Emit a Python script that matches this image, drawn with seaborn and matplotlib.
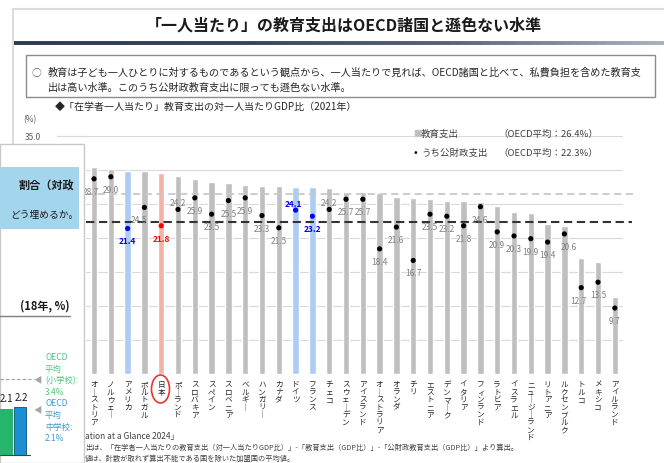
import matplotlib
matplotlib.use("Agg")
import matplotlib.pyplot as plt
import numpy as np
import seaborn as sns
from matplotlib.collections import LineCollection
from matplotlib.colors import LinearSegmentedColormap
from matplotlib.lines import Line2D
from matplotlib.patches import Ellipse, Rectangle

sns.set_theme(style="white")
plt.rcParams["font.family"] = ["Noto Sans CJK JP", "DejaVu Sans"]

# --- data ---
countries = [
    "オーストリア", "ノルウェー", "アメリカ", "ポルトガル", "日本", "ポーランド",
    "スロバキア", "スペイン", "スロベニア", "ベルギー", "ハンガリー", "カナダ",
    "ドイツ", "フランス", "チェコ", "スウェーデン", "アイスランド", "オーストラリア",
    "オランダ", "チリ", "エストニア", "デンマーク", "イタリア", "フィンランド",
    "ラトビア", "イスラエル", "ニュージーランド", "リトアニア", "ルクセンブルク",
    "トルコ", "メキシコ", "アイルランド",
]
total_spend = [
    30.5, 30.1, 29.9, 29.8, 29.5, 29.1, 28.7, 28.2, 28.1, 27.8, 27.7, 27.6,
    27.5, 27.5, 27.3, 26.8, 26.7, 26.6, 26.0, 25.9, 25.7, 25.5, 25.4, 25.3,
    24.7, 23.8, 23.7, 22.0, 21.7, 17.0, 16.5, 11.3,
]
public_spend = [
    28.7, 29.0, 21.4, 24.5, 21.8, 24.2, 25.9, 23.5, 25.5, 25.9, 23.3, 21.5,
    24.1, 23.2, 24.2, 25.7, 25.7, 18.4, 21.6, 16.7, 23.5, 23.2, 21.8, 24.6,
    20.9, 20.3, 19.9, 19.4, 20.6, 12.7, 13.5, 9.7,
]
oecd_total = 26.4
oecd_public = 22.3
blue_countries = ["アメリカ", "ドイツ", "フランス"]
red_countries = ["日本"]

# --- styling ---
W, H = 664, 464
GRAY_BAR = "#bfbfbf"
BLUE_BAR = "#aecbf4"
RED_BAR = "#f3b2a6"
LABEL_GRAY = "#808080"
# label nudges (px) for points whose label sits above / off-centre
LABEL_ABOVE = {5, 12, 14}
LABEL_DX = {0: -3, 3: -5, 12: -2, 28: 4, 29: -3}


def fx(px):
    return px / W


def fy(py):
    return 1 - py / H


def bar_color(c):
    if c in blue_countries:
        return BLUE_BAR
    if c in red_countries:
        return RED_BAR
    return GRAY_BAR


def dot_color(c):
    if c in blue_countries:
        return "#0000ff"
    if c in red_countries:
        return "#ff0000"
    return "#000000"


def vertical(name):
    # stack characters top-to-bottom like Japanese vertical writing
    return "\n".join("｜" if ch == "ー" else ch for ch in name)


fig = plt.figure(figsize=(W / 100, H / 100), dpi=100)
fig.patch.set_facecolor("white")

# --- main chart ---
pitch = 16.8
ax = fig.add_axes([fx(94 - pitch / 2), fy(375), fx(pitch * len(countries)), (375 - 137) / H])
ax.set_facecolor("none")
sns.barplot(x=countries, y=total_spend, hue=countries, palette={c: bar_color(c) for c in countries},
            legend=False, width=0.38, saturation=1, ax=ax, zorder=2)
x = np.arange(len(countries))
ax.scatter(x, public_spend, s=14, c=[dot_color(c) for c in countries], zorder=4, linewidths=0)

for i, (c, v) in enumerate(zip(countries, public_spend)):
    dy = 5 if i in LABEL_ABOVE else -9
    col = dot_color(c) if c in blue_countries + red_countries else LABEL_GRAY
    ax.annotate(f"{v:.1f}", (i, v), xytext=(LABEL_DX.get(i, 0) * 0.72, dy), textcoords="offset points",
                ha="center", va="center", fontsize=6, color=col, zorder=5,
                fontweight="bold" if c in blue_countries + red_countries else "normal")

ax.set_xlim(-0.5, len(countries) - 0.5)
ax.set_ylim(0, 35)
ax.set_yticks(np.arange(5, 36, 5))
ax.yaxis.grid(True, color="#d9d9d9", lw=0.8, zorder=0)
ax.set_yticklabels([])
ax.tick_params(axis="y", length=0)
ax.set_xticks(x)
ax.set_xticklabels([vertical(c) for c in countries], fontsize=5.5, linespacing=0.92,
                   va="top", color="#262626")
ax.tick_params(axis="x", length=0, pad=4.5)
ax.set_xlabel("")
for s in ax.spines.values():
    s.set_visible(False)

# OECD average reference lines, running a bit past the plot area
ax.hlines(oecd_total, -0.5, 32.1, colors="#c8c8c8", lw=1.3, linestyles=(0, (4, 2.5)), clip_on=False, zorder=3)
ax.hlines(oecd_public, -0.5, 32.0, colors="#333333", lw=1.5, linestyles=(0, (4, 2.2)), clip_on=False, zorder=3)

# circle round 日本
fig.add_artist(Ellipse((fx(160.5), fy(390)), 18 / W, 28 / H, transform=fig.transFigure,
                       fill=False, edgecolor="#e8342a", lw=1.2))

# axis extras
fig.add_artist(Line2D([fx(57), fx(86)], [fy(137), fy(137)], color="#d9d9d9", lw=0.8))
fig.text(fx(33), fy(137), "35.0", fontsize=6, color="#595959", ha="center", va="center")
fig.text(fx(30), fy(120), "(%)", fontsize=6, color="#595959", ha="center", va="center")

# legend
fig.text(fx(413), fy(134), "■", fontsize=6, color=GRAY_BAR, va="center")
fig.text(fx(421), fy(134), "教育支出", fontsize=6.8, color="#404040", va="center")
fig.text(fx(498), fy(134), "（OECD平均：26.4%）", fontsize=6.8, color="#404040", va="center")
fig.text(fx(413), fy(153), "•", fontsize=8, color="black", va="center")
fig.text(fx(421), fy(153), "うち公財政支出", fontsize=6.8, color="#404040", va="center")
fig.text(fx(498), fy(153), "（OECD平均：22.3%）", fontsize=6.8, color="#404040", va="center")

# --- slide header ---
fig.add_artist(Line2D([fx(13), fx(13)], [fy(10), fy(464)], color="#dcdcdc", lw=1.5))
fig.add_artist(Line2D([fx(13), fx(664)], [fy(10), fy(10)], color="#dcdcdc", lw=1.5))
fig.text(fx(344), fy(26), "「一人当たり」の教育支出はOECD諸国と遜色ない水準", fontsize=11.5,
         fontweight="bold", color="#1a1a1a", ha="center", va="center")
gx = np.linspace(fx(14), 1, 80)
segs = [[(gx[k], fy(44)), (gx[k + 1], fy(44))] for k in range(len(gx) - 1)]
navy = LinearSegmentedColormap.from_list("navy", ["#2c3a54", "#33425c", "#56627a", "#a9b0bd"])
fig.add_artist(LineCollection(segs, colors=navy(np.linspace(0, 1, len(segs))), lw=2.8,
                              transform=fig.transFigure))
fig.add_artist(Rectangle((fx(26), fy(98)), fx(655) - fx(26), (98 - 56) / H, transform=fig.transFigure,
                         fill=False, edgecolor="#8c8c8c", lw=1))
fig.text(fx(31), fy(73), "○", fontsize=7, color="#595959", va="center")
fig.text(fx(48), fy(73), "教育は子ども一人ひとりに対するものであるという観点から、一人当たりで見れば、"
         "OECD諸国と比べて、私費負担を含めた教育支", fontsize=7.3, color="#262626", va="center")
fig.text(fx(48), fy(88), "出は高い水準。このうち公財政教育支出に限っても遜色ない水準。",
         fontsize=7.3, color="#262626", va="center")
fig.text(fx(55), fy(107), "◆「在学者一人当たり」教育支出の対一人当たりGDP比（2021年）",
         fontsize=7.2, color="#262626", va="center")

# footnotes
fig.text(fx(85), fy(437), "ation at a Glance 2024」", fontsize=6, color="#404040", va="center")
fig.text(fx(85), fy(448), "出は、「在学者一人当たりの教育支出（対一人当たりGDP比）」-「教育支出（GDP比）」"
         "-「公財政教育支出（GDP比）」より算出。", fontsize=5.2, color="#404040", va="center")
fig.text(fx(85), fy(459), "値は、計数が取れず算出不能である国を除いた加盟国の平均値。",
         fontsize=5.2, color="#404040", va="center")

# --- overlapping slide panel on the left ---
Z = 20
fig.add_artist(Rectangle((0, 0), fx(84), fy(145), transform=fig.transFigure, facecolor="white",
                         edgecolor="#c8c8c8", lw=1, zorder=Z))
fig.add_artist(Rectangle((0, fy(230)), fx(79), (230 - 168) / H, transform=fig.transFigure,
                         facecolor="#a3d6ec", edgecolor="none", zorder=Z + 1))
fig.text(fx(74), fy(185), "割合（対政", fontsize=8, fontweight="bold", color="#1a1a1a",
         ha="right", va="center", zorder=Z + 2)
fig.text(fx(79), fy(215), "どう埋めるか。", fontsize=7, color="#1a1a1a",
         ha="right", va="center", zorder=Z + 2)
fig.text(fx(70), fy(306), "(18年, %)", fontsize=8, fontweight="bold", color="#1a1a1a",
         ha="right", va="center", zorder=Z + 2)
fig.add_artist(Line2D([0, fx(70)], [fy(317), fy(317)], color="#7f7f7f", lw=1, zorder=Z + 2))
fig.add_artist(Line2D([0, fx(34)], [fy(380), fy(380)], color="#5cc48a", lw=0.8, ls=(0, (3, 2)), zorder=Z + 2))
fig.add_artist(Rectangle((0, fy(456)), fx(13), (456 - 410) / H, transform=fig.transFigure,
                         facecolor="#25b56c", edgecolor="none", zorder=Z + 1))
fig.add_artist(Rectangle((fx(13.5), fy(456)), fx(12.5), (456 - 408) / H, transform=fig.transFigure,
                         facecolor="#1b8fd2", edgecolor="#0d4f7a", lw=0.6, zorder=Z + 1))
fig.add_artist(Line2D([0, fx(30)], [fy(456), fy(456)], color="#404040", lw=0.8, zorder=Z + 2))
fig.text(fx(6), fy(399), "2.1", fontsize=7, color="#1a1a1a", ha="center", va="center", zorder=Z + 2)
fig.text(fx(21.5), fy(398), "2.2", fontsize=7, color="#1a1a1a", ha="center", va="center", zorder=Z + 2)
for yy in (380, 410):
    fig.text(fx(38), fy(yy), "◀", fontsize=6, color="#a6a6a6", ha="center", va="center", zorder=Z + 2)
for k, s in enumerate(["OECD", "平均", "(小学校):", "3.4%"]):
    fig.text(fx(45), fy(358 + 11.5 * k), s, fontsize=6, color="#4fc47e", va="center", zorder=Z + 2)
for k, s in enumerate(["OECD", "平均", "中学校:", "2.1%"]):
    fig.text(fx(45), fy(404 + 11.5 * k), s, fontsize=6, color="#3a9ad6", va="center", zorder=Z + 2)

fig.savefig("out.png", dpi=100, facecolor="white")
